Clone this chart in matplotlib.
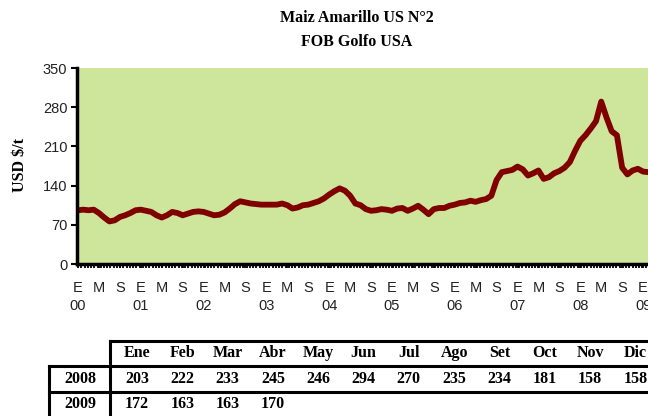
import numpy as np
import matplotlib as mpl
mpl.use('Agg')
import matplotlib.pyplot as plt
from matplotlib.lines import Line2D

# monthly FOB Gulf price, USD/t, Jan 2000 .. Apr 2009
price_2000 = [96, 97, 96, 97, 91, 83, 76, 78, 84, 87, 91, 96]
price_2001 = [97, 95, 93, 87, 83, 87, 93, 91, 87, 90, 93, 94]
price_2002 = [93, 90, 87, 88, 92, 99, 107, 112, 110, 108, 107, 106]
price_2003 = [106, 106, 106, 108, 105, 99, 101, 105, 106, 109, 112, 117]
price_2004 = [124, 130, 135, 131, 122, 108, 105, 98, 95, 96, 98, 97]
price_2005 = [95, 99, 100, 95, 99, 104, 97, 89, 98, 100, 100, 104]
price_2006 = [106, 109, 110, 113, 111, 114, 116, 122, 150, 164, 166, 168]
price_2007 = [174, 169, 158, 162, 167, 152, 155, 162, 166, 172, 182, 202]
price_2008 = [220, 230, 242, 255, 290, 262, 237, 230, 172, 160, 167, 170]
price_2009 = [165, 164, 166, 165]

years = ['00', '01', '02', '03', '04', '05', '06', '07', '08', '09']
tick_letters = ['E', 'M', 'S']

# table under the chart
table_months = ['Ene', 'Feb', 'Mar', 'Abr', 'May', 'Jun', 'Jul', 'Ago', 'Set', 'Oct', 'Nov', 'Dic']
table_2008 = [203, 222, 233, 245, 246, 294, 270, 235, 234, 181, 158, 158]
table_2009 = [172, 163, 163, 170]

price = (price_2000 + price_2001 + price_2002 + price_2003 + price_2004 +
         price_2005 + price_2006 + price_2007 + price_2008 + price_2009)
months = np.arange(len(price))

W, H = 648, 416
fig = plt.figure(figsize=(W / 100, H / 100), dpi=100)

def fx(px):
    return px / W

def fy(py):
    return 1 - py / H

serif = 'Liberation Serif'
sans = 'Liberation Sans'

ax = fig.add_axes([fx(77), fy(264), fx(664) - fx(77), fy(68) - fy(264)])
ax.set_facecolor('#CDE69C')
ax.plot(months, price, color='#800000', lw=4.2, solid_joinstyle='round')

for s in ['top', 'right']:
    ax.spines[s].set_visible(False)
for s in ['left', 'bottom']:
    ax.spines[s].set_linewidth(2.5)

ax.set_yticks(range(0, 351, 70))
ax.tick_params(axis='y', direction='out', length=4, width=1.5, labelsize=10.5, pad=3)

xt, xl = [], []
for i, y in enumerate(years):
    for j, letter in enumerate(tick_letters):
        m = i * 12 + j * 4
        if m > 112:
            continue
        xt.append(m)
        xl.append(letter + '\n' + y if j == 0 else letter)
ax.set_xticks(xt)
ax.set_xticklabels(xl, linespacing=1.35)
ax.set_xticks(np.arange(0, 112, 0.62), minor=True)
ax.tick_params(axis='x', which='both', direction='out', length=3, width=1.3,
               labelsize=10.5, pad=9)
for lbl in ax.get_xticklabels() + ax.get_yticklabels():
    lbl.set_fontfamily(sans)
    lbl.set_color('#222222')

# limits after the ticks, so the ticks do not widen the view
ax.set_xlim(-0.2, 112)
ax.set_ylim(0, 350)

fig.text(fx(20), fy(165), 'USD $/t', rotation=90, ha='center', va='center',
         fontfamily=serif, fontweight='bold', fontsize=11.5)

fig.text(fx(357), fy(18), 'Maiz Amarillo US N°2', ha='center', va='center',
         fontfamily=serif, fontweight='bold', fontsize=11.5)
fig.text(fx(357), fy(42), 'FOB Golfo USA', ha='center', va='center',
         fontfamily=serif, fontweight='bold', fontsize=11.5)

# table frame
def hline(x0, x1, y):
    fig.add_artist(Line2D([fx(x0), fx(x1)], [fy(y), fy(y)], color='black', lw=2.2))

def vline(x, y0, y1):
    fig.add_artist(Line2D([fx(x), fx(x)], [fy(y0), fy(y1)], color='black', lw=2.2))

hline(110, 660, 341)
hline(49, 660, 366)
hline(49, 660, 392)
vline(110, 341, 420)
vline(49, 366, 420)

col_x = [137 + 45.3 * k for k in range(12)]
tkw = dict(ha='center', va='center', fontfamily=serif, fontweight='bold', fontsize=11.5)
for x, name in zip(col_x, table_months):
    fig.text(fx(x), fy(353), name, **tkw)
fig.text(fx(80), fy(379), '2008', **tkw)
fig.text(fx(80), fy(404), '2009', **tkw)
for x, v in zip(col_x, table_2008):
    fig.text(fx(x), fy(379), str(v), **tkw)
for x, v in zip(col_x, table_2009):
    fig.text(fx(x), fy(404), str(v), **tkw)

fig.savefig('out.png', dpi=100)
